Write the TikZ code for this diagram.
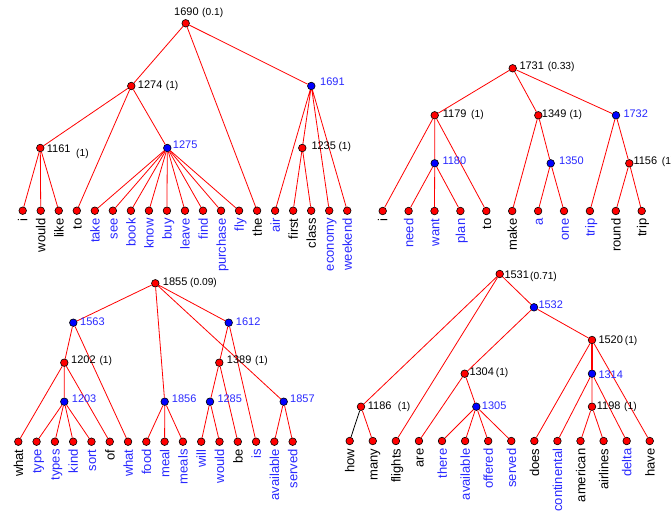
\documentclass[tikz,border=0pt]{standalone}
\usepackage{fontspec}
\setmainfont{Liberation Sans}
\definecolor{tred}{RGB}{255,0,0}
\definecolor{tblue}{RGB}{0,0,255}
\definecolor{lb}{RGB}{40,40,255}
\definecolor{lk}{RGB}{0,0,0}
\tikzset{
 rn/.style={circle,draw=black,line width=0.6pt,fill=tred,minimum size=7.6pt,inner sep=0pt},
 bn/.style={rn,fill=tblue},
 edge/.style={draw=tred,line width=0.8pt},
 leaf/.style={rotate=90,anchor=east,inner sep=0pt,text height=9.5pt,text depth=0pt,font=\fontsize{13}{15}\selectfont},
 num/.style={anchor=base west,inner sep=0pt,font=\fontsize{11}{13}\selectfont},
 numb/.style={num,text=lb},
 par/.style={anchor=base west,inner sep=0pt,font=\fontsize{10.2}{12}\selectfont},
}
\begin{document}
\begin{tikzpicture}[x=1pt,y=-1pt]
\useasboundingbox (0,0) rectangle (671,519);
% ---------- Q1 ----------
\foreach \w/\c [count=\i] in {i/lk,would/lk,like/lk,to/lk,take/lb,see/lb,book/lb,know/lb,buy/lb,leave/lb,find/lb,purchase/lb,fly/lb,the/lk,air/lb,first/lk,class/lk,economy/lb,weekend/lb}{
  \node[rn] (A\i) at ({22.7+(\i-1)*18.03},210.7) {};
  \node[leaf,text=\c] (At\i) at ({22.7+(\i-1)*18.03},218.2) {\w};
}
\node[rn] (n1690) at (185.7,23.3) {};
\node[rn] (n1274) at (131.3,86) {};
\node[bn] (n1691) at (311.3,86) {};
\node[rn] (n1161) at (40.3,148) {};
\node[bn] (n1275) at (167.3,148) {};
\node[rn] (n1235) at (302.3,148) {};
\draw[edge] (n1690)--(n1274) (n1690)--(A14) (n1690)--(n1691);
\draw[edge] (n1274)--(n1161) (n1274)--(A4) (n1274)--(n1275);
\foreach \j in {1,2,3} \draw[edge] (n1161)--(A\j);
\foreach \j in {5,...,13} \draw[edge] (n1275)--(A\j);
\draw[edge] (n1691)--(A15) (n1691)--(n1235) (n1691)--(A18) (n1691)--(A19);
\draw[edge] (n1235)--(A16) (n1235)--(A17);
\node[num] (l1690) at (174,15.7) {1690};
\node[par] (p1690) at (202,15.7) {(0.1)};
\node[num] (l1274) at (137.7,88.3) {1274};
\node[par] (p1274) at (165.7,88.3) {(1)};
\node[numb] (l1691) at (320,85.7) {1691};
\node[num] (l1161) at (46.7,152.7) {1161};
\node[par] (p1161) at (76,156) {(1)};
\node[numb] (l1275) at (172.7,148.7) {1275};
\node[num] (l1235) at (311.3,149.3) {1235};
\node[par] (p1235) at (338.3,149.3) {(1)};
% ---------- Q2 ----------
\foreach \w/\c [count=\i] in {i/lk,need/lb,want/lb,plan/lb,to/lk,make/lk,a/lb,one/lb,trip/lb,round/lk,trip/lk}{
  \node[rn] (B\i) at ({382.7+(\i-1)*25.9},211) {};
  \node[leaf,text=\c] (Bt\i) at ({382.7+(\i-1)*25.9},218.5) {\w};
}
\node[rn] (m1731) at (512.7,68.3) {};
\node[rn] (m1179) at (434.7,115.3) {};
\node[rn] (m1349) at (538.3,115.3) {};
\node[bn] (m1732) at (616,115.3) {};
\node[bn] (m1180) at (434.7,163.3) {};
\node[bn] (m1350) at (550.7,163.3) {};
\node[rn] (m1156) at (629.3,163.3) {};
\draw[edge] (m1731)--(m1179) (m1731)--(m1349) (m1731)--(m1732);
\draw[edge] (m1179)--(B1) (m1179)--(m1180) (m1179)--(B5);
\draw[edge] (m1180)--(B2) (m1180)--(B3) (m1180)--(B4);
\draw[edge] (m1349)--(B6) (m1349)--(m1350);
\draw[edge] (m1350)--(B7) (m1350)--(B8);
\draw[edge] (m1732)--(B9) (m1732)--(m1156);
\draw[edge] (m1156)--(B10) (m1156)--(B11);
\node[num] (l1731) at (519.3,69.7) {1731};
\node[par] (p1731) at (547.7,69.7) {(0.33)};
\node[num] (l1179) at (442.7,117) {1179};
\node[par] (p1179) at (471,117) {(1)};
\node[num] (l1349) at (541.7,117) {1349};
\node[par] (p1349) at (569.3,117) {(1)};
\node[numb] (l1732) at (623.3,117) {1732};
\node[numb] (l1180) at (442.3,164.7) {1180};
\node[numb] (l1350) at (559,164.7) {1350};
\node[num] (l1156) at (633.3,164.7) {1156};
\node[par] (p1156) at (661.7,164.7) {(1)};
% ---------- Q3 ----------
\foreach \w/\c [count=\i] in {what/lk,type/lb,types/lb,kind/lb,sort/lb,of/lk,what/lb,food/lb,meal/lb,meals/lb,will/lb,would/lb,be/lk,is/lb,available/lb,served/lb}{
  \node[rn] (C\i) at ({18.3+(\i-1)*18.29},441.7) {};
  \node[leaf,text=\c] (Ct\i) at ({18.3+(\i-1)*18.29},449.2) {\w};
}
\node[rn] (p1855) at (155.3,283.3) {};
\node[bn] (p1563) at (73.3,322.7) {};
\node[bn] (p1612) at (228.7,322.7) {};
\node[rn] (p1202) at (64.3,362.7) {};
\node[rn] (p1389) at (219.3,362.7) {};
\node[bn] (p1203) at (64.3,401.7) {};
\node[bn] (p1856) at (164.7,401.7) {};
\node[bn] (p1285) at (210,401.7) {};
\node[bn] (p1857) at (283.7,401.7) {};
\draw[edge] (p1855)--(p1563) (p1855)--(p1856) (p1855)--(p1612) (p1855)--(p1857);
\draw[edge] (p1563)--(p1202) (p1563)--(C7);
\draw[edge] (p1202)--(C1) (p1202)--(p1203) (p1202)--(C6);
\foreach \j in {2,3,4,5} \draw[edge] (p1203)--(C\j);
\draw[edge] (p1856)--(C8) (p1856)--(C9) (p1856)--(C10);
\draw[edge] (p1612)--(p1389) (p1612)--(C14);
\draw[edge] (p1389)--(p1285) (p1389)--(C13);
\draw[edge] (p1285)--(C11) (p1285)--(C12);
\draw[edge] (p1857)--(C15) (p1857)--(C16);
\node[num] (l1855) at (162.7,285) {1855};
\node[par] (pp1855) at (190,285) {(0.09)};
\node[numb] (l1563) at (80,325.3) {1563};
\node[numb] (l1612) at (235.7,325.3) {1612};
\node[num] (l1202) at (71,363.3) {1202};
\node[par] (pp1202) at (99.3,363.3) {(1)};
\node[num] (l1389) at (226.7,363.3) {1389};
\node[par] (pp1389) at (255,363.3) {(1)};
\node[numb] (l1203) at (71.7,402.7) {1203};
\node[numb] (l1856) at (171.7,402.7) {1856};
\node[numb] (l1285) at (217.3,402.7) {1285};
\node[numb] (l1857) at (290,402.7) {1857};
% ---------- Q4 ----------
\foreach \w/\c [count=\i] in {how/lk,many/lk,flights/lk,are/lk,there/lb,available/lb,offered/lb,served/lb,does/lk,continental/lb,american/lk,airlines/lk,delta/lb,have/lk}{
  \node[rn] (D\i) at ({349.7+(\i-1)*23.08},441) {};
  \node[leaf,text=\c] (Dt\i) at ({349.7+(\i-1)*23.08},448.5) {\w};
}
\node[rn] (q1531) at (499.7,274) {};
\node[bn] (q1532) at (534,307.3) {};
\node[rn] (q1520) at (592,340) {};
\node[rn] (q1304) at (464.7,373.7) {};
\node[bn] (q1314) at (592,373.7) {};
\node[rn] (q1186) at (361,406.7) {};
\node[bn] (q1305) at (476.3,406.7) {};
\node[rn] (q1198) at (592,406.7) {};
\draw[edge] (q1531)--(q1186) (q1531)--(D3) (q1531)--(q1532);
\draw[line width=0.8pt,black] (q1186)--(D1);
\draw[edge] (q1186)--(D2);
\draw[edge] (q1532)--(q1304) (q1532)--(q1520);
\draw[edge] (q1304)--(D4) (q1304)--(q1305);
\foreach \j in {5,6,7,8} \draw[edge] (q1305)--(D\j);
\draw[edge] (q1520)--(D9) (q1520)--(D14);
\draw[edge,line width=1.5pt] (q1520)--(q1314);
\draw[edge] (q1314)--(D10) (q1314)--(q1198) (q1314)--(D13);
\draw[edge] (q1198)--(D11) (q1198)--(D12);
\node[num] (l1531) at (504.3,278) {1531};
\node[par] (pq1531) at (530,279.7) {(0.71)};
\node[numb] (l1532) at (538.3,308) {1532};
\node[num] (l1520) at (598.3,343.3) {1520};
\node[par] (pq1520) at (624.7,343.3) {(1)};
\node[num] (l1304) at (469.3,375) {1304};
\node[par] (pq1304) at (495.7,375) {(1)};
\node[numb] (l1314) at (598.3,378.3) {1314};
\node[num] (l1186) at (367.7,409) {1186};
\node[par] (pq1186) at (397.7,409) {(1)};
\node[numb] (l1305) at (481.7,409.3) {1305};
\node[num] (l1198) at (596.7,409) {1198};
\node[par] (pq1198) at (624,409) {(1)};
\end{tikzpicture}
\end{document}
